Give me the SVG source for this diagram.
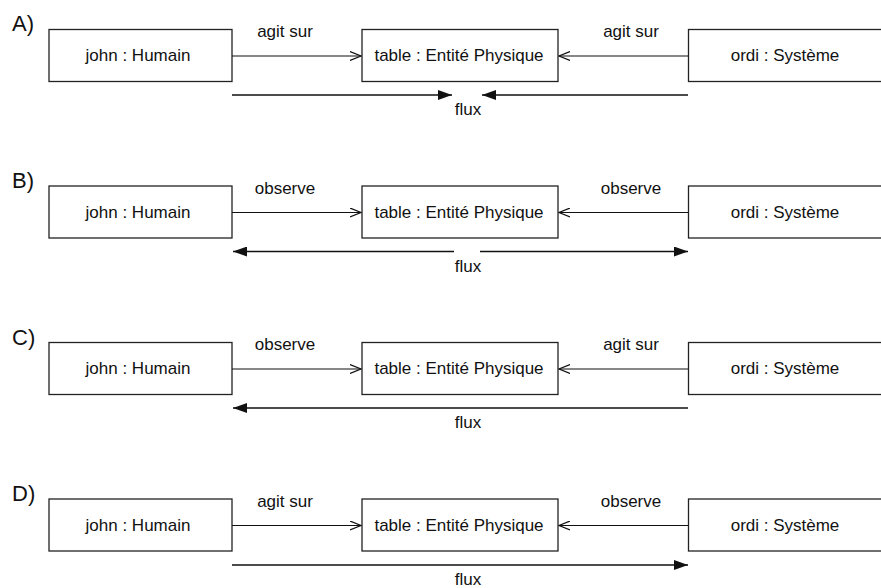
<svg xmlns="http://www.w3.org/2000/svg" width="881" height="588" viewBox="0 0 881 588">
<defs>
<style>
.box{fill:#fff;stroke:#222;stroke-width:1.3}
.ln{fill:none;stroke:#111;stroke-width:1.2}
.fl{fill:none;stroke:#111;stroke-width:1.6}
text{font-family:"Liberation Sans",Arial,sans-serif;font-size:17px;fill:#111}
.c{text-anchor:middle}
.lab{font-size:22px}
</style>
<marker id="open" viewBox="0 0 12 10" refX="11" refY="5" markerWidth="12" markerHeight="10" markerUnits="userSpaceOnUse" orient="auto">
<path d="M0,0.5 L11,5 L0,9.5" fill="none" stroke="#111" stroke-width="1.2"/>
</marker>
<marker id="solid" viewBox="0 0 15 10" refX="14" refY="5" markerWidth="15" markerHeight="10" markerUnits="userSpaceOnUse" orient="auto">
<path d="M0,0 L14,5 L0,10 Z" fill="#111"/>
</marker>
</defs>

<!-- Row A -->
<text class="lab" x="12" y="31">A)</text>
<g id="A-john"><rect class="box" x="49" y="29.5" width="183" height="52"/><text class="c" x="138" y="61">john : Humain</text></g>
<g id="A-table"><rect class="box" x="362" y="29.5" width="196" height="52"/><text class="c" x="459" y="61">table : Entité Physique</text></g>
<g id="A-ordi"><rect class="box" x="688.5" y="29.5" width="200" height="52"/><text class="c" x="785" y="61">ordi : Système</text></g>
<g id="A-edges">
<line class="ln" x1="232" y1="56" x2="361" y2="56" marker-end="url(#open)"/>
<text class="c" x="285" y="37">agit sur</text>
<line class="ln" x1="688" y1="56" x2="559" y2="56" marker-end="url(#open)"/>
<text class="c" x="631" y="37">agit sur</text>
<line class="fl" x1="232" y1="95" x2="452" y2="95" marker-end="url(#solid)"/>
<line class="fl" x1="688" y1="95" x2="482" y2="95" marker-end="url(#solid)"/>
<text class="c" x="468" y="115">flux</text>
</g>

<!-- Row B -->
<text class="lab" x="12" y="188">B)</text>
<g id="B-john"><rect class="box" x="49" y="186" width="183" height="52"/><text class="c" x="138" y="217.5">john : Humain</text></g>
<g id="B-table"><rect class="box" x="362" y="186" width="196" height="52"/><text class="c" x="459" y="217.5">table : Entité Physique</text></g>
<g id="B-ordi"><rect class="box" x="688.5" y="186" width="200" height="52"/><text class="c" x="785" y="217.5">ordi : Système</text></g>
<g id="B-edges">
<line class="ln" x1="232" y1="212.5" x2="361" y2="212.5" marker-end="url(#open)"/>
<text class="c" x="285" y="193.5">observe</text>
<line class="ln" x1="688" y1="212.5" x2="559" y2="212.5" marker-end="url(#open)"/>
<text class="c" x="631" y="193.5">observe</text>
<line class="fl" x1="454" y1="251.5" x2="233" y2="251.5" marker-end="url(#solid)"/>
<line class="fl" x1="480" y1="251.5" x2="688" y2="251.5" marker-end="url(#solid)"/>
<text class="c" x="468" y="271.5">flux</text>
</g>

<!-- Row C -->
<text class="lab" x="12" y="344.5">C)</text>
<g id="C-john"><rect class="box" x="49" y="342.5" width="183" height="52"/><text class="c" x="138" y="374">john : Humain</text></g>
<g id="C-table"><rect class="box" x="362" y="342.5" width="196" height="52"/><text class="c" x="459" y="374">table : Entité Physique</text></g>
<g id="C-ordi"><rect class="box" x="688.5" y="342.5" width="200" height="52"/><text class="c" x="785" y="374">ordi : Système</text></g>
<g id="C-edges">
<line class="ln" x1="232" y1="369" x2="361" y2="369" marker-end="url(#open)"/>
<text class="c" x="285" y="350">observe</text>
<line class="ln" x1="688" y1="369" x2="559" y2="369" marker-end="url(#open)"/>
<text class="c" x="631" y="350">agit sur</text>
<line class="fl" x1="688" y1="408" x2="233" y2="408" marker-end="url(#solid)"/>
<text class="c" x="468" y="428">flux</text>
</g>

<!-- Row D -->
<text class="lab" x="12" y="501">D)</text>
<g id="D-john"><rect class="box" x="49" y="499" width="183" height="52"/><text class="c" x="138" y="530.5">john : Humain</text></g>
<g id="D-table"><rect class="box" x="362" y="499" width="196" height="52"/><text class="c" x="459" y="530.5">table : Entité Physique</text></g>
<g id="D-ordi"><rect class="box" x="688.5" y="499" width="200" height="52"/><text class="c" x="785" y="530.5">ordi : Système</text></g>
<g id="D-edges">
<line class="ln" x1="232" y1="525.5" x2="361" y2="525.5" marker-end="url(#open)"/>
<text class="c" x="285" y="506.5">agit sur</text>
<line class="ln" x1="688" y1="525.5" x2="559" y2="525.5" marker-end="url(#open)"/>
<text class="c" x="631" y="506.5">observe</text>
<line class="fl" x1="232" y1="565" x2="688" y2="565" marker-end="url(#solid)"/>
<text class="c" x="468" y="584.5">flux</text>
</g>
</svg>
